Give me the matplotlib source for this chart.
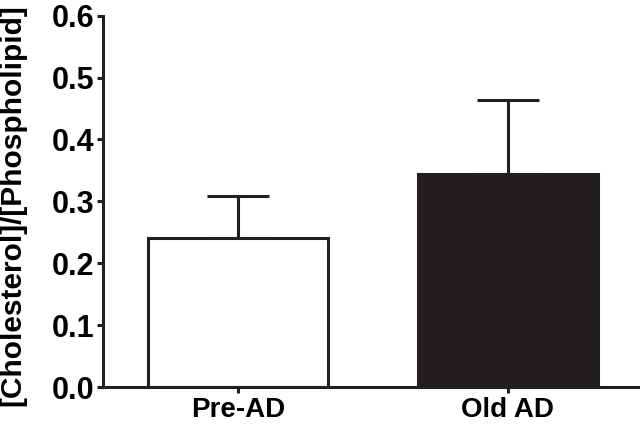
import matplotlib.pyplot as plt

# data
groups = ['Pre-AD', 'Old AD']
means = [0.241, 0.345]
errors = [0.068, 0.119]
fills = ['white', '#231f20']

ink = '#231f20'
plt.rcParams['font.family'] = ['Liberation Sans', 'DejaVu Sans']
plt.rcParams['font.weight'] = 'bold'

fig = plt.figure(figsize=(6.4, 4.24), dpi=100)
ax = fig.add_axes([0.161, 0.087, 0.839, 0.876])

x = range(len(groups))
ax.bar(x, means, width=0.667, color=fills, edgecolor=ink, linewidth=2.2, zorder=2)
ax.errorbar(x, means, yerr=[[0, 0], errors], fmt='none', ecolor=ink,
            elinewidth=2.2, capsize=22, capthick=2.2, zorder=1)

ax.set_xlim(-0.5, 1.49)
ax.set_ylim(0, 0.6)
ax.set_yticks([0.0, 0.1, 0.2, 0.3, 0.4, 0.5, 0.6])
ax.set_yticklabels([f'{v:.1f}' for v in ax.get_yticks()])
ax.set_xticks(list(x))
ax.set_xticklabels(groups, fontsize=20, fontweight='bold')
ax.set_ylabel('[Cholesterol]/[Phospholipid]', fontsize=21.5, fontweight='bold')
ax.yaxis.set_label_coords(-0.142, 0.49)

ax.spines['top'].set_visible(False)
ax.spines['right'].set_visible(False)
for s in ['left', 'bottom']:
    ax.spines[s].set_linewidth(2.2)
    ax.spines[s].set_color(ink)
ax.tick_params(axis='y', length=4, width=2.2, color=ink, labelsize=22, pad=2)
ax.tick_params(axis='x', length=4, width=2.2, color=ink, pad=3)

plt.savefig('out.png', dpi=100)
